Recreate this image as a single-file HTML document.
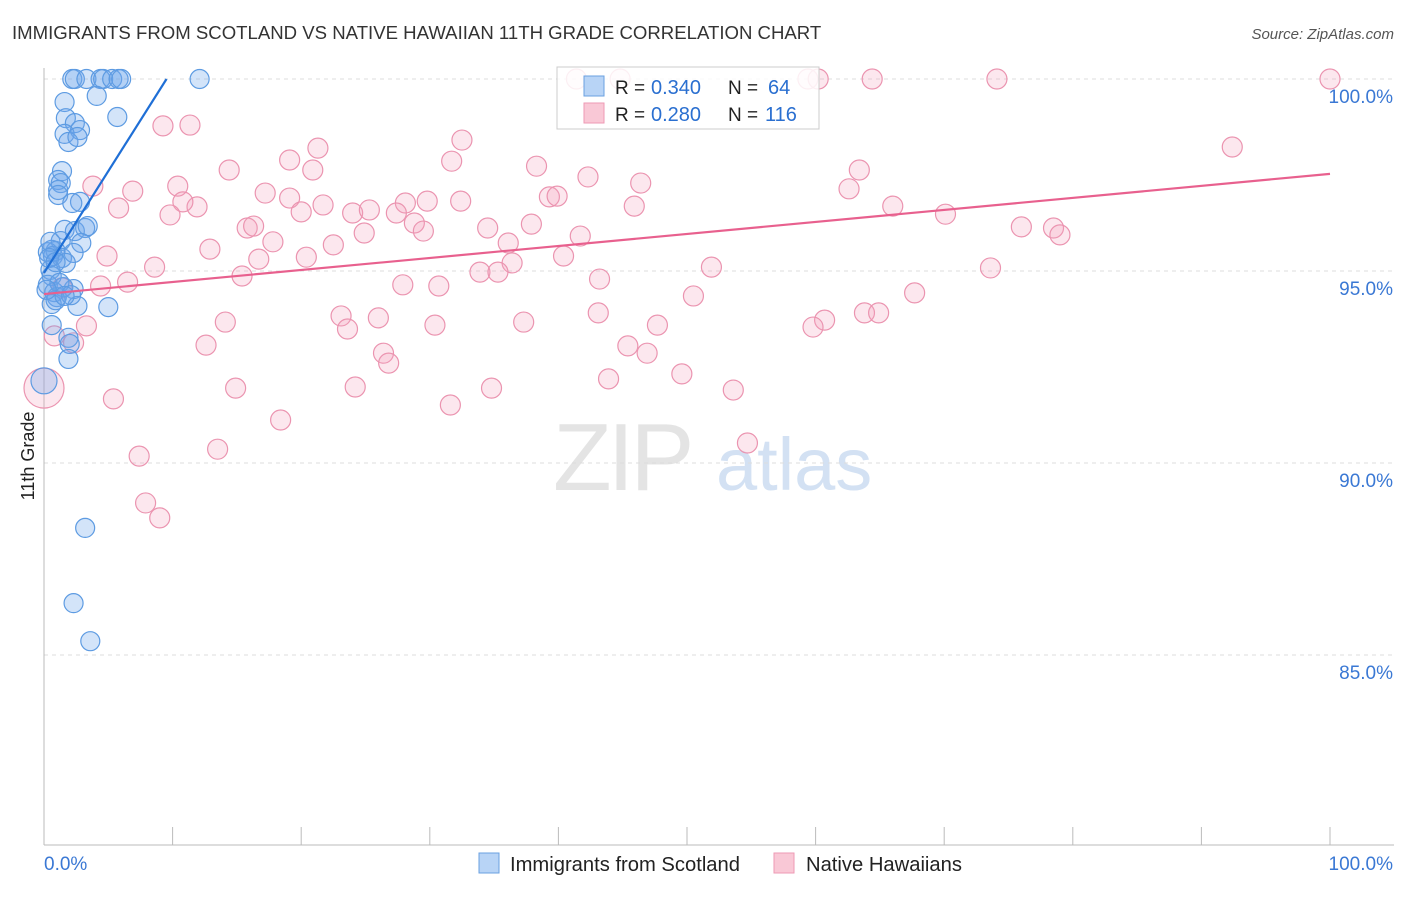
<!DOCTYPE html>
<html><head><meta charset="utf-8"><style>
body{margin:0;background:#fff;font-family:"Liberation Sans",sans-serif;}
svg text{font-family:"Liberation Sans",sans-serif;}
</style></head><body>
<svg id="chart" width="1406" height="892">
<text x="12" y="39" font-size="18.6" fill="#333">IMMIGRANTS FROM SCOTLAND VS NATIVE HAWAIIAN 11TH GRADE CORRELATION CHART</text>
<text x="1394" y="39" font-size="15" fill="#555" text-anchor="end" font-style="italic">Source: ZipAtlas.com</text>
<text x="34" y="456" font-size="18" fill="#222" text-anchor="middle" transform="rotate(-90 34 456)">11th Grade</text>
<g><text x="553" y="490" font-size="96" fill="#e4e4e4" font-family="Liberation Serif" letter-spacing="-4">ZIP</text><text x="716" y="490" font-size="74" fill="#d3e1f3">atlas</text></g>
<g id="grid"></g><g id="axes"></g><g id="pts"></g><g id="lines"></g>
<g>
<rect x="557" y="67" width="262" height="62" fill="#fff" fill-opacity="0.85" stroke="#ccc"/>
<rect x="584" y="76" width="20" height="20" fill="#b8d4f6" stroke="#6aa0e0"/>
<rect x="584" y="103" width="20" height="20" fill="#f9c8d6" stroke="#ee9ab4"/>
<text x="615" y="94" font-size="19" fill="#222">R =</text>
<text x="651" y="94" font-size="20" fill="#2a6fd0">0.340</text>
<text x="728" y="94" font-size="19" fill="#222">N =</text>
<text x="768" y="94" font-size="20" fill="#2a6fd0">64</text>
<text x="615" y="121" font-size="19" fill="#222">R =</text>
<text x="651" y="121" font-size="20" fill="#2a6fd0">0.280</text>
<text x="728" y="121" font-size="19" fill="#222">N =</text>
<text x="765" y="121" font-size="20" fill="#2a6fd0">116</text>
</g>
<g>
<rect x="479" y="853" width="20" height="20" fill="#b8d4f6" stroke="#6aa0e0"/>
<text x="510" y="871" font-size="20.2" fill="#222">Immigrants from Scotland</text>
<rect x="774" y="853" width="20" height="20" fill="#f9c8d6" stroke="#ee9ab4"/>
<text x="806" y="871" font-size="20.2" fill="#222">Native Hawaiians</text>
</g>
</svg>
<script>
const yTicks=[100,95,90,85];
const yTickLabels=["100.0%","95.0%","90.0%","85.0%"];
const blueX=[2.2,2.4,3.3,4.4,4.6,5.3,5.8,6.0,12.1,1.6,4.1,5.7,1.7,2.4,2.8,1.6,1.9,2.6,1.4,1.1,1.3,1.1,1.1,2.8,2.2,1.6,2.4,1.3,3.2,3.4,2.9,0.6,0.9,0.3,0.7,1.4,2.3,1.7,0.5,0.6,0.3,0.8,1.0,2.3,1.5,1.2,0.6,0.9,2.6,5.0,0.6,1.9,2.0,1.9,0,3.2,2.3,3.6,0.5,0.4,0.9,2.1,1.6,0.2];
const blueY=[100,100,100,100,100,100,100,100,100,99.40,99.56,99.01,98.98,98.85,98.67,98.57,98.36,98.49,97.60,97.37,97.29,97.11,96.98,96.80,96.77,96.07,96.04,95.78,96.12,96.17,95.73,95.55,95.52,95.49,95.39,95.34,95.47,95.21,95.03,94.87,94.64,94.45,94.32,94.53,94.58,94.69,94.14,94.24,94.09,94.06,93.59,93.26,93.10,92.71,92.14,88.31,86.35,85.36,95.76,95.34,95.23,94.37,94.35,94.51];
const pinkX=[41.4,44.8,59.4,60.2,64.4,74.1,100,92.4,9.25,11.35,32.5,21.3,19.1,31.7,38.3,14.4,20.9,63.4,3.8,6.9,10.4,17.2,42.3,46.4,62.6,39.3,39.9,32.4,28.1,29.8,19.1,21.7,11.9,10.8,5.8,9.8,20.0,24.0,25.3,27.4,45.9,66.0,70.1,15.8,16.3,28.8,29.5,34.5,37.9,24.9,76.0,78.5,79.0,12.9,17.8,22.5,36.1,41.7,4.9,16.7,20.4,40.4,8.6,36.4,15.4,33.9,35.3,51.9,73.6,6.5,4.4,1.4,27.9,30.7,43.2,50.5,67.7,23.1,14.1,26.0,30.4,37.3,43.1,47.7,63.8,64.9,60.7,59.8,3.3,23.6,0.8,2.3,12.6,45.4,46.9,26.4,26.8,43.9,49.6,14.9,24.2,34.8,53.6,5.4,31.6,18.4,54.7,13.5,7.4,7.9,9.0,0];
const pinkY=[100,100,100,100,100,100,100,98.23,98.78,98.80,98.41,98.20,97.89,97.86,97.73,97.63,97.63,97.63,97.21,97.08,97.21,97.03,97.45,97.29,97.14,96.93,96.95,96.82,96.77,96.82,96.90,96.72,96.67,96.80,96.64,96.46,96.54,96.51,96.59,96.51,96.69,96.69,96.48,96.12,96.17,96.25,96.04,96.12,96.22,95.99,96.15,96.12,95.94,95.57,95.76,95.68,95.73,95.91,95.39,95.31,95.36,95.39,95.10,95.21,94.87,94.97,94.97,95.10,95.08,94.71,94.61,94.56,94.64,94.61,94.79,94.35,94.43,93.83,93.67,93.78,93.59,93.67,93.91,93.59,93.91,93.91,93.72,93.54,93.57,93.49,93.31,93.13,93.07,93.05,92.86,92.86,92.60,92.19,92.32,91.95,91.98,91.95,91.90,91.67,91.51,91.12,90.52,90.36,90.18,88.96,88.57,91.95];
const blueTrend=[94.95,0.53];
const pinkTrend=[94.4,0.0313];
const X=v=>44+v*12.86, Y=v=>79+(100-v)*38.4;
const NS="http://www.w3.org/2000/svg";
function mk(t,a,p){const e=document.createElementNS(NS,t);for(const k in a)e.setAttribute(k,a[k]);p.appendChild(e);return e;}
const grid=document.getElementById('grid'),axes=document.getElementById('axes'),pts=document.getElementById('pts'),lines=document.getElementById('lines');
yTicks.forEach((t,i)=>{
 const l=mk('line',{x1:44,x2:1394,y1:Y(t),y2:Y(t),stroke:'#ddd','stroke-dasharray':'4,4'},grid);
 
 
 const tx=mk('text',{x:1393,y:Y(t)+24,'font-size':19,fill:'#3a78d4','text-anchor':'end'},axes);
 tx.textContent=yTickLabels[i];
 
 
});
const ya=mk('line',{x1:44,x2:44,y1:68,y2:845,stroke:'#bbb'},axes);


const xa=mk('line',{x1:44,x2:1394,y1:845,y2:845,stroke:'#bbb'},axes);


for(let i=0;i<=10;i++){const tk=mk('line',{x1:X(i*10),x2:X(i*10),y1:827,y2:845,stroke:'#bbb'},axes);
 
 }
const xl0=mk('text',{x:44,y:870,'font-size':19,fill:'#3a78d4'},axes);xl0.textContent='0.0%';


const xl1=mk('text',{x:1393,y:870,'font-size':19,fill:'#3a78d4','text-anchor':'end'},axes);xl1.textContent='100.0%';


pinkX.forEach((x,i)=>{const r=(i==pinkX.length-1)?20:10;
 const c=mk('circle',{cx:X(x),cy:Y(pinkY[i]),r:r,fill:'rgba(244,160,188,0.25)',stroke:'#eb94b0','stroke-width':1.2},pts);
 
 });
blueX.forEach((x,i)=>{const r=(x==0)?13:9.5;
 const c=mk('circle',{cx:X(x),cy:Y(blueY[i]),r:r,fill:'rgba(110,165,235,0.3)',stroke:'#5d9be2','stroke-width':1.2},pts);
 
 });
const bx2=(100-blueTrend[0])/blueTrend[1];
const bl=mk('line',{x1:X(0),y1:Y(blueTrend[0]),x2:X(bx2),y2:Y(100),stroke:'#1f6fd6','stroke-width':2.2},lines);


const pl=mk('line',{x1:X(0),y1:Y(pinkTrend[0]),x2:X(100),y2:Y(pinkTrend[0]+pinkTrend[1]*100),stroke:'#e8608e','stroke-width':2.2},lines);


</script>
</body></html>
